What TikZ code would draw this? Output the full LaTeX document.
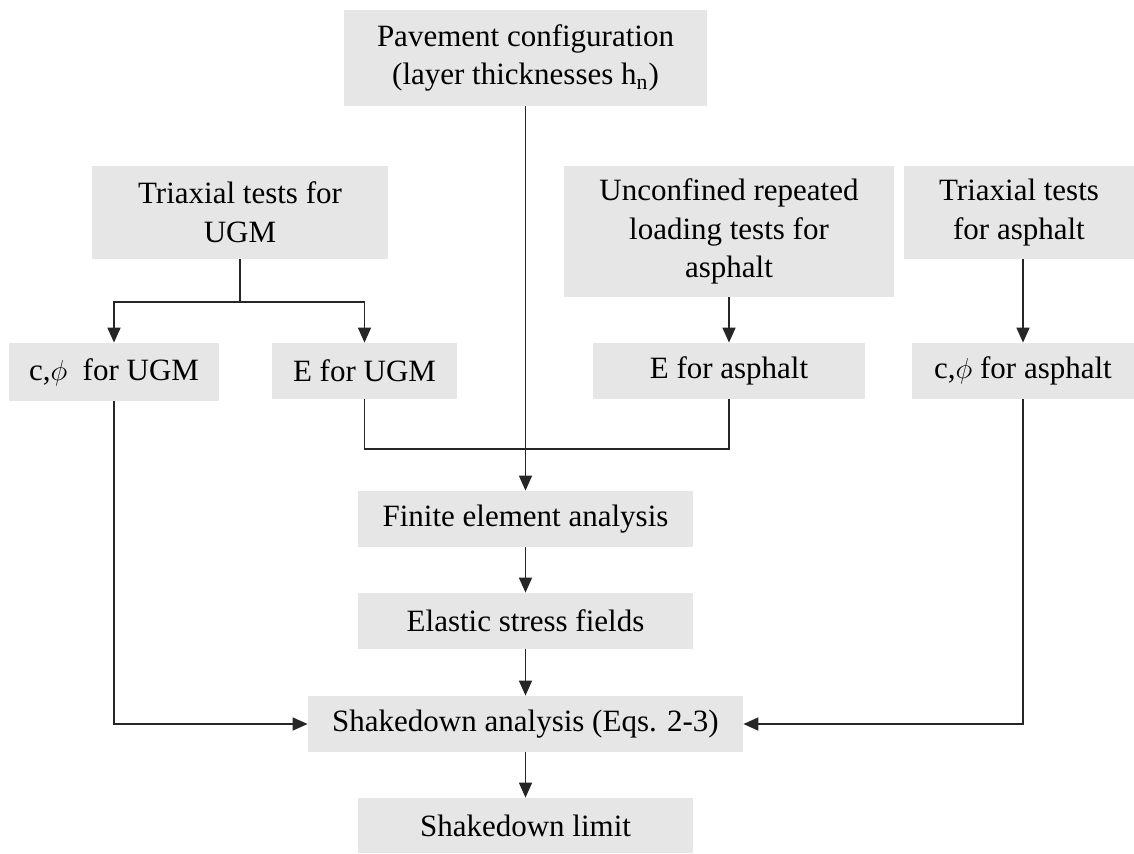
\documentclass[tikz,border=0pt]{standalone}
\usepackage{fontspec}
\setmainfont{Liberation Serif}
\usepackage{tikz}
\usetikzlibrary{arrows.meta}
\definecolor{boxgray}{HTML}{E6E6E6}

\begin{document}
\begin{tikzpicture}[x=0.5pt, y=-0.5pt,
    font=\fontsize{15.5}{19.3}\selectfont,
    blk/.style={fill=boxgray, inner sep=0pt, align=center, minimum height=28pt},
    link/.style={line width=0.8pt, black!85},
    arr/.style={link, -{Triangle[length=7.5pt, width=6.5pt]}}]
  \useasboundingbox (0,0) rectangle (1134,853);
  % inputs
  \node[blk, minimum width=181.5pt, minimum height=48pt] (pav) at (525.5,58) {Pavement configuration\\(layer thicknesses h\textsubscript{n})};
  \node[blk, minimum width=148pt, minimum height=46.5pt] (triugm) at (240,212.5) {Triaxial tests for\\UGM};
  \node[blk, minimum width=165pt, minimum height=65.5pt] (unconf) at (729,231.5) {Unconfined repeated\\loading tests for\\asphalt};
  \node[blk, minimum width=115pt, minimum height=46.5pt] (triasph) at (1019,212.5) {Triaxial tests\\for asphalt};
  % material parameters
  \node[blk, minimum width=105pt, minimum height=29pt] (cphiugm) at (114,372) {c,$\phi$\ \ for UGM};
  \node[blk, minimum width=92.5pt] (eugm) at (364.5,371) {E for UGM};
  \node[blk, minimum width=136pt] (easph) at (729,371) {E for asphalt};
  \node[blk, minimum width=111pt] (cphiasph) at (1023,371) {c,$\phi$ for asphalt};
  % analysis chain
  \node[blk, minimum width=167.5pt] (fea) at (525.5,519) {Finite element analysis};
  \node[blk, minimum width=167.5pt] (esf) at (525.5,621) {Elastic stress fields};
  \node[blk, minimum width=217.5pt] (sda) at (525.5,724) {Shakedown analysis (Eqs. 2-3)};
  \node[blk, minimum width=167.5pt, minimum height=27.5pt] (sdl) at (525.5,825.5) {Shakedown limit};

  \coordinate (split) at (240,302);
  \coordinate (join) at (525.5,449);
  \draw[link] (triugm) -- (split);
  \draw[arr] (split) -| (cphiugm);
  \draw[arr] (split) -| (eugm);
  \draw[arr] (unconf) -- (easph);
  \draw[arr] (triasph.south -| cphiasph.north) -- (cphiasph.north);
  \draw[link] (eugm) |- (join) -| (easph);
  \draw[arr] (pav) -- (fea);
  \draw[arr] (fea) -- (esf);
  \draw[arr] (esf) -- (sda);
  \draw[arr] (sda) -- (sdl);
  \draw[arr] (cphiugm) |- (sda);
  \draw[arr] (cphiasph) |- (sda);
\end{tikzpicture}
\end{document}
